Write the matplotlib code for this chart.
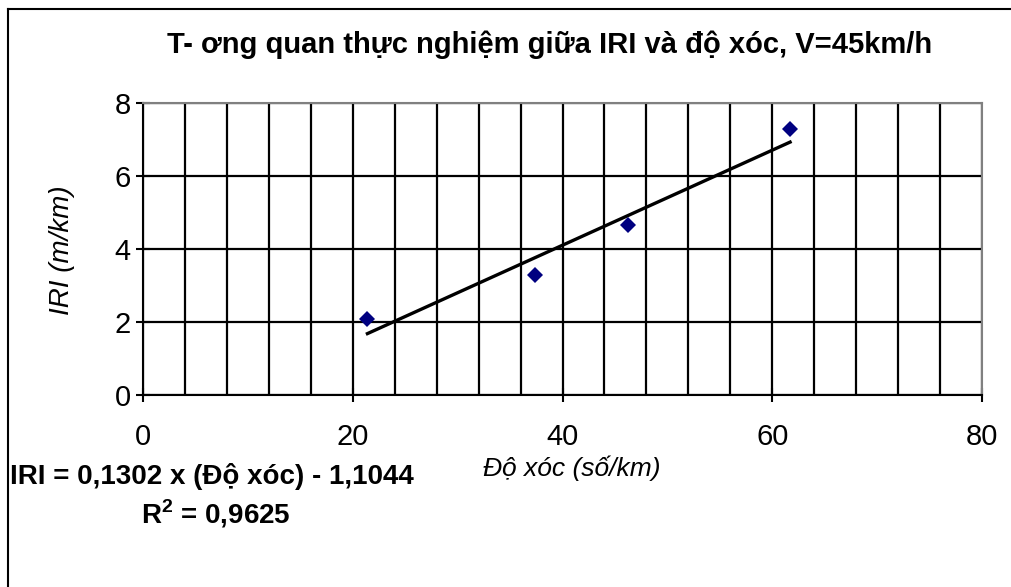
import matplotlib
matplotlib.use("Agg")
import matplotlib.pyplot as plt
from matplotlib.lines import Line2D
from matplotlib.ticker import MultipleLocator

# measured points: do xoc (so/km) vs IRI (m/km)
do_xoc = [21.4, 37.4, 46.2, 61.7]
iri = [2.07, 3.28, 4.65, 7.28]

# linear trend (from the chart's equation)
slope = 0.1302
intercept = -1.1044

title = "T- ơng quan thực nghiệm giữa IRI và độ xóc, V=45km/h"
xlabel = "Độ xóc (số/km)"
ylabel = "IRI (m/km)"
eq_text = "IRI = 0,1302 x (Độ xóc) - 1,1044"
r2_text = "R$^\\mathregular{2}$ = 0,9625"

plt.rcParams['font.family'] = ['Liberation Sans', 'DejaVu Sans']

fig = plt.figure(figsize=(10.11, 5.87), dpi=100)
ax = fig.add_axes([143 / 1011, 1 - 395 / 587, (982 - 143) / 1011, (395 - 103) / 587])

ax.set_xlim(0, 80)
ax.set_ylim(0, 8)
ax.xaxis.set_major_locator(MultipleLocator(20))
ax.xaxis.set_minor_locator(MultipleLocator(4))
ax.yaxis.set_major_locator(MultipleLocator(2))

ax.grid(True, which='both', axis='x', color='black', lw=1.6)
ax.grid(True, which='major', axis='y', color='black', lw=1.6)
ax.set_axisbelow(True)

for s in ['top', 'right']:
    ax.spines[s].set_color('#808080')
    ax.spines[s].set_linewidth(1.5)
for s in ['left', 'bottom']:
    ax.spines[s].set_color('black')
    ax.spines[s].set_linewidth(1.5)

ax.tick_params(which='major', direction='inout', length=10, width=1.5, labelsize=21)
ax.tick_params(axis='x', pad=15)
ax.tick_params(axis='y', pad=4)
ax.tick_params(which='minor', length=0)

# trend line over the data range
xs = [min(do_xoc), max(do_xoc)]
ys = [slope * v + intercept for v in xs]
ax.plot(xs, ys, color='black', lw=2.4, zorder=3)
ax.plot(do_xoc, iri, linestyle='none', marker='D', markersize=8,
        color='#000080', markeredgewidth=0, zorder=4)

fig.text(550 / 1011, 1 - 45 / 587, title, ha='center', va='center',
         fontsize=21, fontweight='bold')
fig.text(572 / 1011, 1 - 468 / 587, xlabel, ha='center', va='center',
         fontsize=19, style='italic')
fig.text(62 / 1011, 1 - 250 / 587, ylabel, ha='center', va='center',
         fontsize=20, style='italic', rotation=90)
fig.text(212 / 1011, 1 - 476 / 587, eq_text, ha='center', va='center',
         fontsize=20, fontweight='bold')
fig.text(216 / 1011, 1 - 514 / 587, r2_text, ha='center', va='center',
         fontsize=20, fontweight='bold')

# outer chart frame (only left and top edges visible in the picture)
fig.add_artist(Line2D([8 / 1011, 8 / 1011], [0, 1 - 9 / 587], color='black', lw=1.5,
                      transform=fig.transFigure))
fig.add_artist(Line2D([8 / 1011, 1], [1 - 9 / 587, 1 - 9 / 587], color='black', lw=1.5,
                      transform=fig.transFigure))

fig.savefig("out.png", dpi=100)
